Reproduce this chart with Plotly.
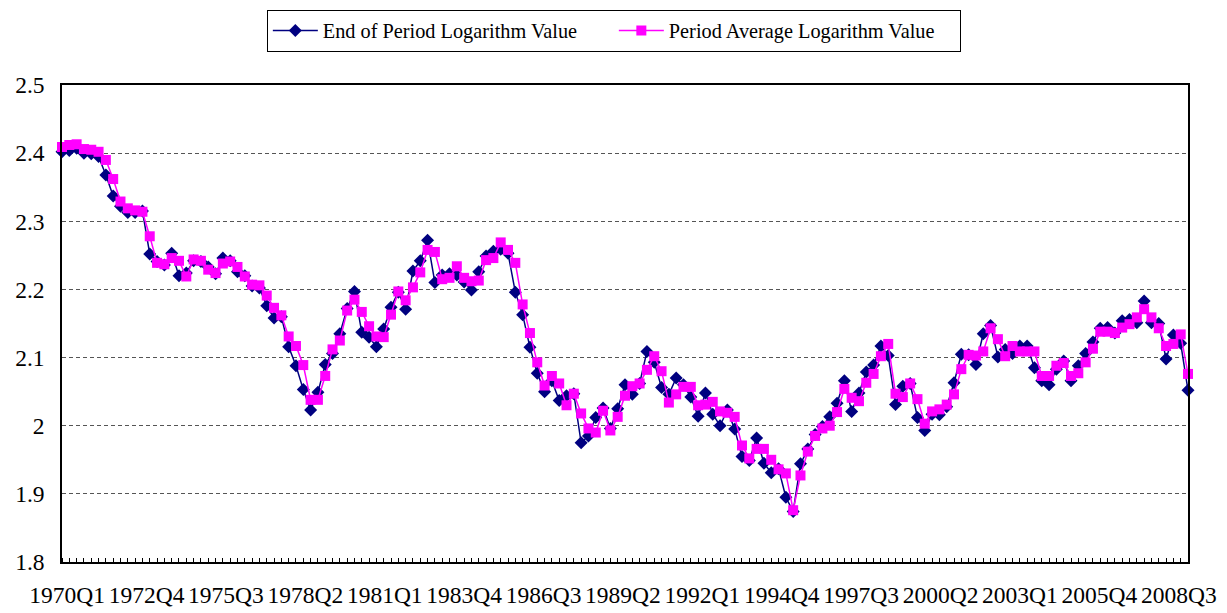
import plotly.graph_objects as go

# quarters 1970Q1 .. 2008Q3
quarters = [f"{y}Q{q}" for y in range(1970, 2009) for q in range(1, 5)][:155]

end_period = [
    2.402, 2.404, 2.407, 2.400, 2.399, 2.395, 2.368, 2.337, 2.322, 2.313,
    2.313, 2.315, 2.252, 2.241, 2.236, 2.253, 2.220, 2.224, 2.242, 2.241,
    2.233, 2.223, 2.246, 2.242, 2.226, 2.220, 2.205, 2.202, 2.176, 2.158,
    2.160, 2.116, 2.088, 2.053, 2.023, 2.049, 2.090, 2.106, 2.135, 2.172,
    2.197, 2.137, 2.130, 2.116, 2.142, 2.174, 2.196, 2.171, 2.227, 2.242,
    2.272, 2.210, 2.221, 2.223, 2.221, 2.211, 2.199, 2.226, 2.249, 2.256,
    2.259, 2.253, 2.196, 2.163, 2.115, 2.077, 2.050, 2.066, 2.037, 2.044,
    2.047, 1.975, 1.985, 2.012, 2.026, 1.996, 2.025, 2.060, 2.046, 2.062,
    2.109, 2.093, 2.056, 2.046, 2.070, 2.060, 2.042, 2.014, 2.048, 2.017,
    2.000, 2.023, 1.995, 1.955, 1.949, 1.982, 1.945, 1.931, 1.937, 1.895,
    1.874, 1.944, 1.966, 1.987, 1.999, 2.013, 2.033, 2.066, 2.021, 2.048,
    2.079, 2.089, 2.117, 2.103, 2.031, 2.058, 2.062, 2.012, 1.993, 2.017,
    2.016, 2.028, 2.063, 2.105, 2.104, 2.090, 2.135, 2.147, 2.101, 2.112,
    2.106, 2.117, 2.117, 2.085, 2.066, 2.060, 2.083, 2.095, 2.066, 2.088,
    2.106, 2.123, 2.143, 2.144, 2.136, 2.154, 2.156, 2.151, 2.183, 2.151,
    2.150, 2.098, 2.133, 2.121, 2.052,
]

period_avg = [
    2.409, 2.412, 2.413, 2.406, 2.405, 2.402, 2.390, 2.362, 2.329, 2.319,
    2.316, 2.314, 2.278, 2.239, 2.237, 2.246, 2.242, 2.219, 2.244, 2.242,
    2.229, 2.224, 2.238, 2.241, 2.233, 2.219, 2.207, 2.206, 2.191, 2.173,
    2.162, 2.131, 2.117, 2.089, 2.038, 2.038, 2.073, 2.112, 2.125, 2.169,
    2.185, 2.167, 2.146, 2.131, 2.130, 2.163, 2.197, 2.184, 2.203, 2.225,
    2.258, 2.255, 2.215, 2.217, 2.234, 2.217, 2.212, 2.213, 2.243, 2.246,
    2.269, 2.258, 2.239, 2.178, 2.136, 2.093, 2.059, 2.073, 2.062, 2.030,
    2.047, 2.018, 1.996, 1.990, 2.022, 1.993, 2.013, 2.044, 2.058, 2.062,
    2.082, 2.102, 2.080, 2.034, 2.046, 2.057, 2.057, 2.030, 2.031, 2.035,
    2.021, 2.019, 2.013, 1.971, 1.952, 1.966, 1.966, 1.950, 1.936, 1.930,
    1.876, 1.927, 1.962, 1.985, 1.996, 2.000, 2.020, 2.054, 2.041, 2.036,
    2.063, 2.076, 2.102, 2.120, 2.047, 2.042, 2.062, 2.039, 2.003, 2.021,
    2.024, 2.031, 2.046, 2.083, 2.104, 2.103, 2.109, 2.143, 2.127, 2.102,
    2.117, 2.109, 2.109, 2.109, 2.073, 2.073, 2.088, 2.092, 2.073, 2.077,
    2.093, 2.113, 2.138, 2.138, 2.136, 2.144, 2.149, 2.159, 2.171, 2.159,
    2.143, 2.117, 2.120, 2.134, 2.076,
]

x = list(range(len(quarters)))

# one label every 11 quarters, nudged a little like the original layout
label_idx = list(range(0, len(quarters), 11))
label_pos = [i + 0.7 - 0.14 * k for k, i in enumerate(label_idx)]
label_text = [quarters[i] for i in label_idx]

serif = "Liberation Serif, Times New Roman, serif"

fig = go.Figure()
fig.add_trace(go.Scatter(
    x=x, y=end_period, name="End of Period Logarithm Value",
    mode="lines+markers", cliponaxis=False,
    line=dict(color="#000080", width=1.5),
    marker=dict(symbol="diamond", size=10, color="#000080"),
))
fig.add_trace(go.Scatter(
    x=x, y=period_avg, name="Period Average Logarithm Value",
    mode="lines+markers", cliponaxis=False,
    line=dict(color="#FF00FF", width=1.5),
    marker=dict(symbol="square", size=10, color="#FF00FF"),
))

# page body has an 8px margin, so the figure is a bit smaller and shifted
fig.update_layout(
    width=1219, height=605,
    margin=dict(l=54, r=39, t=77, b=51, autoexpand=False),
    paper_bgcolor="white", plot_bgcolor="white",
    font=dict(family=serif, size=23.5, color="black"),
    showlegend=True,
    legend=dict(
        orientation="h", xref="container", x=0.497, xanchor="center",
        yref="container", y=0.997, yanchor="top",
        bordercolor="black", borderwidth=1,
        font=dict(family=serif, size=20.3),
        traceorder="normal", itemwidth=45, entrywidth=286,
    ),
)
fig.update_xaxes(
    range=[0, len(quarters) - 1], tickvals=label_pos, ticktext=label_text,
    ticks="", minor=dict(ticks="inside", ticklen=4, dtick=1, tick0=0,
                         tickcolor="black", tickwidth=1, showgrid=False),
    showline=True, linecolor="black", linewidth=1.5, mirror=True,
    showgrid=False, zeroline=False, tickangle=0, ticklabelstandoff=11,
    automargin=False,
)
fig.update_yaxes(
    range=[1.8, 2.5], dtick=0.1,
    showline=True, linecolor="black", linewidth=1.5, mirror=True,
    showgrid=True, gridcolor="#555555", griddash="4px,3px", gridwidth=1,
    zeroline=False, ticklabelstandoff=11, automargin=False,
)

fig.write_html("out.html")
